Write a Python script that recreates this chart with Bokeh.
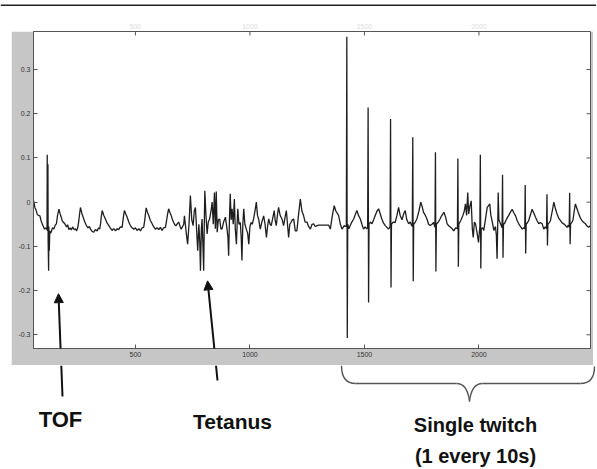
import numpy as np
from bokeh.plotting import figure
from bokeh.models import (Range1d, LinearAxis, FixedTicker, Span, Arrow, NormalHead,
                          Label, Spacer)
from bokeh.layouts import column, row
from bokeh.embed import file_html
from bokeh.resources import INLINE

# ---------------- data ----------------
# start + TOF stimulation + baseline bumps
tof_x = [56, 61, 66, 71, 76, 83, 88, 93, 98, 103, 108, 112,
         114, 115, 116, 118, 119, 121, 122, 124, 126, 129,
         132, 138, 144, 150, 155, 160, 166, 171, 176, 181, 187, 193, 199, 204, 209, 215, 220, 226,
         232, 238, 243, 248, 252, 256, 260, 266, 272, 279, 286, 293, 299, 304, 311, 318, 325, 333,
         339, 344, 348, 351, 355, 362, 369, 376, 384, 391, 398, 405, 413, 420, 427, 434, 442, 446,
         449, 452, 458, 464, 471, 478, 485, 493, 500, 507, 515, 522, 529, 536, 541, 544, 547, 552,
         558, 565, 573, 580, 587, 594, 602, 609, 616, 623, 631, 636, 640, 645, 651, 656, 662, 667,
         673, 678, 684, 689, 695, 700, 706, 711, 714, 718, 722, 728]
tof_y = [0.003, -0.012, -0.018, -0.027, -0.030, -0.031, -0.042, -0.049, -0.055, -0.061, -0.058, -0.062,
         -0.060, 0.107, -0.065, 0.086, -0.090, -0.155, -0.055, -0.110, -0.065, -0.070,
         -0.068, -0.058, -0.061, -0.052, -0.049, -0.030, -0.016, -0.026, -0.034, -0.043, -0.046, -0.050,
         -0.056, -0.051, -0.062, -0.058, -0.063, -0.056,
         -0.062, -0.060, -0.065, -0.058, -0.045, -0.028, -0.012, -0.025, -0.034, -0.045, -0.053, -0.058,
         -0.055, -0.061, -0.066, -0.068, -0.062, -0.065,
         -0.058, -0.061, -0.048, -0.032, -0.019, -0.030, -0.038, -0.047, -0.053, -0.059, -0.064, -0.060,
         -0.065, -0.060, -0.062, -0.056, -0.057, -0.040,
         -0.028, -0.019, -0.027, -0.034, -0.045, -0.053, -0.058, -0.061, -0.058, -0.064, -0.060, -0.065,
         -0.058, -0.057, -0.040, -0.025, -0.013, -0.022,
         -0.030, -0.041, -0.049, -0.056, -0.061, -0.058, -0.062, -0.057, -0.064, -0.058, -0.057, -0.042,
         -0.028, -0.015, -0.024, -0.030, -0.040, -0.046,
         -0.052, -0.053, -0.048, -0.045, -0.055, -0.061, -0.055, -0.050, -0.031, -0.050, -0.070, -0.095]

# tetanus burst and following rest period
tet_x = [734, 740, 746, 752, 757, 762, 767, 772, 777, 781, 784, 788, 791, 795, 798, 801, 803, 808,
         813, 818, 824, 830, 835, 840, 845, 849, 853, 857, 862, 868, 873, 878, 885, 893, 900, 904,
         907, 911, 914, 918, 922, 927, 932, 936, 941, 944, 947, 952, 958, 962, 965, 969, 973, 978,
         984, 990, 995, 1000, 1005, 1010, 1016, 1022, 1028, 1033, 1038, 1045, 1052, 1060, 1066,
         1072, 1077, 1082, 1088, 1093, 1100, 1106, 1110, 1115, 1120, 1125, 1132, 1140, 1147, 1153,
         1159, 1164, 1169, 1174, 1179, 1185, 1191, 1198, 1205, 1212, 1220, 1227, 1234, 1241, 1249,
         1256, 1264, 1271, 1278, 1285, 1293, 1300, 1344, 1351, 1360, 1368, 1375, 1387, 1395, 1402,
         1412, 1417]
tet_y = [-0.050, 0.015, -0.040, -0.053, -0.020, -0.012, -0.060, -0.110, -0.050, -0.090, -0.155, -0.060,
         -0.038, -0.100, -0.155, -0.040, 0.026, -0.030,
         -0.072, -0.045, -0.038, -0.020, 0.000, -0.050, 0.022, -0.060, 0.024, -0.068, -0.040, -0.038,
         -0.060, -0.061, -0.045, -0.034, -0.061, -0.080,
         -0.121, -0.030, 0.019, -0.040, -0.015, -0.050, 0.007, -0.060, -0.095, -0.050, -0.015, -0.050,
         -0.046, -0.080, -0.132, -0.050, -0.015, -0.050,
         -0.061, -0.070, -0.095, -0.055, -0.046, -0.050, -0.038, -0.020, 0.000, -0.030, -0.038, -0.061,
         -0.045, -0.031, -0.050,
         -0.080, -0.055, -0.038, -0.050, -0.053, -0.035, -0.019, -0.040, -0.053, -0.030, -0.012, -0.030,
         -0.038, -0.053, -0.035,
         -0.019, -0.050, -0.080, -0.050, -0.046, -0.040, -0.038, -0.065, -0.065, -0.030, 0.007, -0.020,
         -0.030, -0.045, -0.045,
         -0.055, -0.061, -0.050, -0.049, -0.055, -0.053, -0.052, -0.052, -0.061, -0.030, -0.008, -0.020,
         -0.030, -0.050, -0.061,
         -0.053, -0.055]

# baseline during the single-twitch period
st_x = [1421, 1427, 1432, 1438, 1445, 1453, 1460, 1467, 1474, 1482, 1489, 1496, 1503, 1509, 1514,
        1520, 1526, 1533, 1540, 1547, 1555, 1562, 1568, 1576, 1583, 1591, 1598, 1605, 1612,
        1618, 1625, 1634, 1642, 1649, 1656, 1664, 1672, 1678, 1685, 1693, 1700, 1705, 1709,
        1715, 1722, 1729, 1738, 1746, 1752, 1758, 1766, 1773, 1780, 1787, 1795, 1802, 1808,
        1814, 1822, 1830, 1838, 1847, 1855, 1861, 1869, 1876, 1883, 1890, 1898, 1906,
        1912, 1920, 1930, 1936, 1941, 1946, 1951, 1955, 1960, 1966, 1971, 1975, 1980, 1985, 1992,
        1998, 2004,
        2010, 2016, 2021, 2028, 2036, 2042, 2047, 2052, 2057, 2065, 2072, 2076, 2079, 2082, 2084,
        2087, 2094, 2101,
        2107, 2112, 2117, 2124, 2130, 2138, 2145, 2152, 2160, 2167, 2174, 2181, 2189, 2195, 2200,
        2206, 2212, 2217, 2225, 2232, 2240, 2247, 2254, 2261, 2268, 2276, 2283, 2289, 2295,
        2301, 2306, 2312, 2320, 2327, 2334, 2341, 2348, 2356, 2363, 2370, 2378, 2385, 2390, 2394,
        2400, 2405, 2410, 2416, 2421, 2428, 2436, 2443, 2450, 2458, 2465, 2472, 2479, 2486]
st_y = [-0.055, -0.050, -0.060, -0.053, -0.045, -0.038, -0.028, -0.019, -0.030, -0.038, -0.050, -0.061,
        -0.056, -0.060, -0.058,
        -0.050, -0.045, -0.049, -0.040, -0.030, -0.020, -0.015, -0.025, -0.038, -0.047, -0.053, -0.057,
        -0.061, -0.055,
        -0.050, -0.045, -0.046, -0.030, -0.012, -0.030, -0.040, -0.025, -0.019, -0.040, -0.049, -0.045,
        -0.052, -0.055,
        -0.050, -0.045, -0.038, -0.020, 0.000, -0.010, -0.023, -0.030, -0.038, -0.050, -0.053, -0.050,
        -0.046, -0.057,
        -0.050, -0.045, -0.038, -0.030, -0.023, -0.035, -0.049, -0.054, -0.057, -0.060, -0.065, -0.058,
        -0.060,
        -0.050, -0.042, -0.030, -0.020, -0.004, -0.030, 0.022, -0.027, -0.010, 0.003, -0.060, -0.080,
        -0.045, -0.049, -0.070, -0.091, -0.055,
        -0.060, -0.058, -0.064, -0.040, -0.012, -0.008, -0.004, -0.030, -0.042, -0.064, -0.055, -0.075,
        -0.128, -0.050, 0.022, -0.040, -0.049, -0.058,
        -0.050, -0.048, -0.042, -0.035, -0.030, -0.022, -0.016, -0.024, -0.031, -0.042, -0.049, -0.055,
        -0.061, -0.058, -0.060,
        -0.050, -0.046, -0.042, -0.028, -0.016, -0.025, -0.034, -0.042, -0.049, -0.046, -0.049, -0.061,
        -0.056, -0.060,
        -0.050, -0.047, -0.042, -0.020, 0.000, -0.015, -0.027, -0.036, -0.042, -0.047, -0.049, -0.053,
        -0.057, -0.052, -0.057,
        -0.050, -0.046, -0.042, -0.020, -0.004, -0.015, -0.027, -0.036, -0.042, -0.046, -0.049, -0.054,
        -0.057, -0.053]

# single twitches (one every 10 s): position, positive peak, negative peak
twitch_x = [1423, 1516, 1614, 1711, 1810, 1908, 2006, 2103, 2202, 2297, 2396]
twitch_up = [0.374, 0.214, 0.188, 0.147, 0.113, 0.099, 0.107, 0.062, 0.039, 0.018, 0.021]
twitch_down = [-0.307, -0.227, -0.193, -0.179, -0.157, -0.146, -0.150, -0.126, -0.116, -0.098, -0.095]

x_ticks = [500, 1000, 1500, 2000]
y_ticks = [-0.3, -0.2, -0.1, 0, 0.1, 0.2, 0.3]
y_tick_labels = ["-0.3", "-0.2", "-0.1", "0", "0.1", "0.2", "0.3"]
x_tick_labels = ["500", "1000", "1500", "2000"]

X_MIN, X_MAX = 55, 2487
Y_MIN, Y_MAX = -0.331, 0.386

# assemble the trace
tw_x = []
tw_y = []
for xx, up, dn in zip(twitch_x, twitch_up, twitch_down):
    tw_x += [xx, xx + 2]
    tw_y += [up, dn]
all_x = np.array(tof_x + tet_x + st_x + tw_x, dtype=float)
all_y = np.array(tof_y + tet_y + st_y + tw_y, dtype=float)
order = np.argsort(all_x, kind="stable")
trace_x = all_x[order]
trace_y = all_y[order]

# ---------------- styling / layout constants ----------------
GRAY = "#c6c6c6"
AXC = "#555555"
FONT = "Liberation Sans"
TOTAL_W = 596
A_H = 31
GAP_L = 11
B_W, B_H = 582, 334
B_LEFT, B_RIGHT, B_TOP, B_BOTTOM = 22, 3, 0, 17
C_H = 103
TICK_PX = 4


def style_axis(ax, ticks, labels):
    ax.ticker = FixedTicker(ticks=ticks)
    ax.minor_tick_line_color = None
    ax.major_tick_in = TICK_PX
    ax.major_tick_out = 0
    ax.axis_line_color = AXC
    ax.major_tick_line_color = AXC
    ax.major_label_text_font = FONT
    ax.major_label_text_color = "#333333"
    ax.major_label_text_font_size = "7px"
    ax.major_label_standoff = 3
    ax.major_label_overrides = {t: l for t, l in zip(ticks, labels)}


# ---------------- main plot ----------------
B = figure(width=B_W, height=B_H,
           x_range=Range1d(X_MIN, X_MAX), y_range=Range1d(Y_MIN, Y_MAX),
           output_backend="svg", toolbar_location=None,
           min_border_left=B_LEFT, min_border_right=B_RIGHT,
           min_border_top=B_TOP, min_border_bottom=B_BOTTOM,
           background_fill_color="white", border_fill_color=GRAY,
           outline_line_color=AXC)
B.grid.visible = False
style_axis(B.xaxis[0], x_ticks, x_tick_labels)
style_axis(B.yaxis[0], y_ticks, y_tick_labels)

px_per_x = (B_W - B_LEFT - B_RIGHT) / (X_MAX - X_MIN)
px_per_y = (B_H - B_TOP - B_BOTTOM) / (Y_MAX - Y_MIN)

# mirrored inward ticks on the top and right edges of the box (MATLAB box style)
B.segment(x0=x_ticks, y0=[Y_MAX] * len(x_ticks), x1=x_ticks,
          y1=[Y_MAX - TICK_PX / px_per_y] * len(x_ticks), line_color=AXC, line_width=1)
B.segment(x0=[X_MAX] * len(y_ticks), y0=y_ticks, x1=[X_MAX - TICK_PX / px_per_x] * len(y_ticks),
          y1=y_ticks, line_color=AXC, line_width=1)

B.line(trace_x, trace_y, line_color="#1e1e1e", line_width=1.3)

# arrows pointing at TOF and tetanus responses (tails continue in the strip below)
y_page_bottom = Y_MIN - B_BOTTOM / px_per_y
for x_tail, x_head, y_head in [(176, 164, -0.207), (852, 815, -0.178)]:
    B.add_layout(Arrow(end=NormalHead(size=9, fill_color="#111111", line_color="#111111"),
                       x_start=x_tail, y_start=y_page_bottom, x_end=x_head, y_end=y_head,
                       line_color="#111111", line_width=2))

# ---------------- top strip (rule line + faint mirrored labels) ----------------
frame_left_page = GAP_L + B_LEFT
a0 = X_MIN - frame_left_page / px_per_x
a1 = X_MIN + (TOTAL_W - frame_left_page) / px_per_x
A = figure(width=TOTAL_W, height=A_H, x_range=Range1d(a0, a1), y_range=Range1d(0, 1),
           x_axis_type=None, y_axis_type=None, output_backend="svg", toolbar_location=None,
           min_border=0, outline_line_color=None, background_fill_color="white",
           border_fill_color="white")
A.grid.visible = False
faint = LinearAxis(ticker=FixedTicker(ticks=x_ticks), axis_line_color=None,
                   major_tick_line_color=None, minor_tick_line_color=None,
                   major_label_text_color="#dddddd", major_label_text_font_size="7px",
                   major_label_text_font=FONT, major_label_standoff=0)
A.add_layout(faint, "below")
A.add_layout(Span(location=0.72, dimension="width", line_color="#222222", line_width=1.6))

# ---------------- bottom strip (annotations) ----------------
C = figure(width=TOTAL_W, height=C_H, x_range=Range1d(0, TOTAL_W), y_range=Range1d(365 + C_H, 365),
           x_axis_type=None, y_axis_type=None, output_backend="svg", toolbar_location=None,
           min_border=0, outline_line_color=None, background_fill_color="white",
           border_fill_color="white")
C.grid.visible = False
C.add_layout(Arrow(end=None, x_start=62, y_start=396, x_end=60.8, y_end=365,
                   line_color="#111111", line_width=2))
C.add_layout(Arrow(end=None, x_start=217, y_start=380, x_end=215.5, y_end=365,
                   line_color="#111111", line_width=2))
# curly brace under the single-twitch period
BR = dict(line_color="#555555", line_width=1.4)
C.quadratic(x0=[341], y0=[365], x1=[355], y1=[383], cx=[341], cy=[383], **BR)
C.segment(x0=[355, 482], y0=[383, 383], x1=[456, 580], y1=[383, 383], **BR)
C.quadratic(x0=[456], y0=[383], x1=[469], y1=[401], cx=[467], cy=[383], **BR)
C.quadratic(x0=[469], y0=[401], x1=[482], y1=[383], cx=[471], cy=[383], **BR)
C.quadratic(x0=[580], y0=[383], x1=[594], y1=[366], cx=[594], cy=[383], **BR)

for txt, x, y, size in [("TOF", 60, 419, "22px"), ("Tetanus", 232, 421, "21px"),
                        ("Single twitch", 475, 424, "20px"), ("(1 every 10s)", 475, 455, "20px")]:
    C.add_layout(Label(x=x, y=y, text=txt, text_align="center", text_baseline="alphabetic",
                       text_font=FONT, text_font_style="bold", text_font_size=size,
                       text_color="#111111"))

layout = column(A, row(Spacer(width=GAP_L, height=B_H), B), C)
open("out.html", "w").write(file_html(layout, INLINE))
